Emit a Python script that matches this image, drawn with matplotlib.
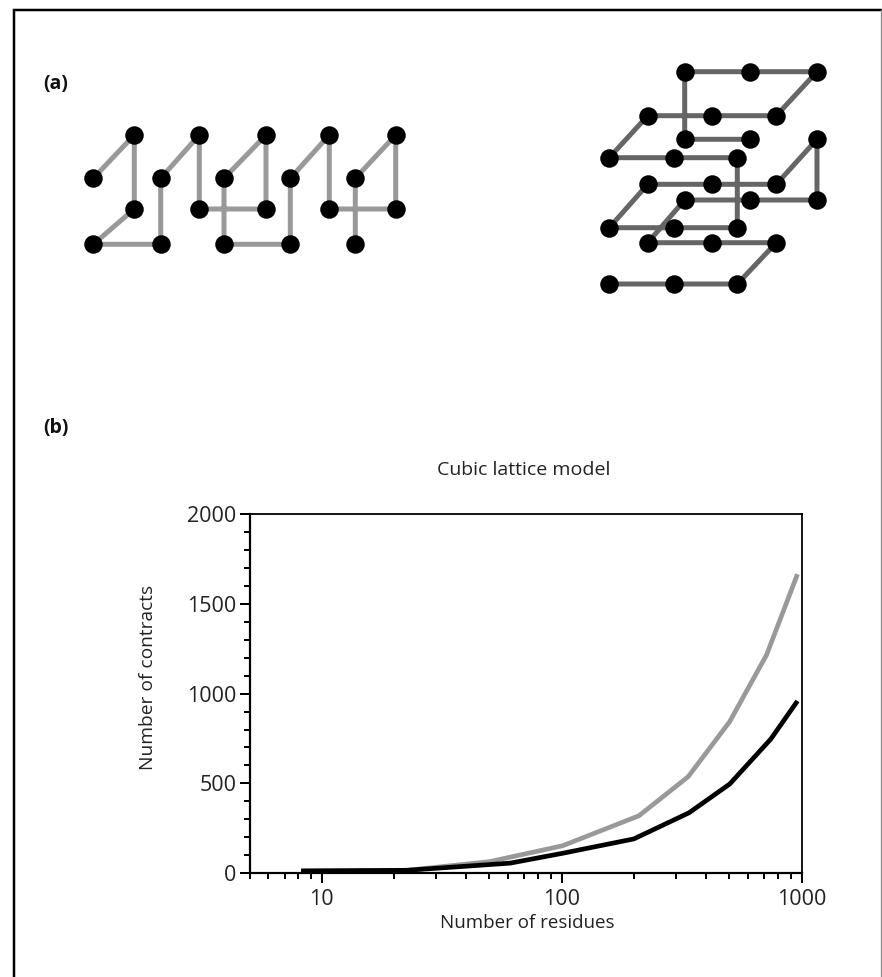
import matplotlib
matplotlib.use("Agg")
import matplotlib.pyplot as plt
from matplotlib.ticker import FixedLocator, NullFormatter

plt.rcParams['font.family'] = ['Open Sans', 'DejaVu Sans']

W, H = 882, 977

# lattice chains (in picture pixels)
chain_2d_x = [93.3, 134.3, 134.3, 93.3, 160.7, 160.7, 199.3, 199.3, 266, 266,
              224, 224, 290.3, 290.3, 329.3, 329.3, 395.7, 395.7, 355.3, 355.3]
chain_2d_y = [178.3, 135, 209, 244.3, 244.3, 178.3, 135, 209, 209, 135,
              178.3, 244.3, 244.3, 178.3, 135, 209, 209, 135, 178.3, 244.3]
chain_3d_x = [750, 684.7, 684.7, 750, 817, 776.3, 712.3, 647.7, 609.3, 674, 737.3,
              737.3, 674, 609.3, 647.7, 712.3, 776.3, 817, 817, 750, 684.7,
              647.7, 712.3, 776.3, 737.3, 674, 609.3]
chain_3d_y = [139.3, 139.3, 71.7, 71.7, 71.7, 115.7, 115.7, 115.7, 157.7, 157.7, 157.7,
              227.7, 227.7, 227.7, 184.3, 184.3, 184.3, 139.3, 200, 200, 200,
              242.7, 242.7, 242.7, 284, 284, 284]

# contact curves
residues_gray = [8.2, 22.6, 50, 101, 210, 337, 502, 715, 962]
contacts_gray = [13, 15, 63, 152, 319, 537, 844, 1216, 1666]
residues_black = [8.2, 22.6, 61, 101, 200, 340, 502, 745, 962]
contacts_black = [11, 15, 55, 110, 190, 336, 496, 747, 959]

y_major = [0, 500, 1000, 1500, 2000]
y_minor = [100, 200, 300, 400, 600, 700, 800, 900, 1100, 1200, 1300, 1400,
           1600, 1700, 1800, 1900]
x_major = [10, 100, 1000]
x_minor = [5, 6, 7, 8, 9, 20, 30, 40, 50, 60, 70, 80, 90,
           200, 300, 400, 500, 600, 700, 800, 900]

px = 72 / 100  # points per pixel at dpi 100

fig = plt.figure(figsize=(W / 100, H / 100), dpi=100)

# overlay in picture pixels for the frame, lattices and labels
bg = fig.add_axes([0, 0, 1, 1])
bg.set_xlim(0, W)
bg.set_ylim(H, 0)
bg.axis('off')

bg.plot([13.5, 13.5, 880.5], [977, 10, 10], color='black', lw=2.5 * px,
        solid_joinstyle='miter')
bg.plot([880.8, 880.8], [10, 977], color='#8c8c8c', lw=1.3 * px)

bg.plot(chain_2d_x, chain_2d_y, color='#999999', lw=5 * px, solid_capstyle='butt', zorder=2)
bg.plot(chain_2d_x, chain_2d_y, 'o', color='black', ms=18.5 * px, mew=0, zorder=3)
bg.plot(chain_3d_x, chain_3d_y, color='#666666', lw=5 * px, solid_capstyle='butt', zorder=2)
bg.plot(chain_3d_x, chain_3d_y, 'o', color='black', ms=18.5 * px, mew=0, zorder=3)

bg.text(43, 84, '(a)', fontsize=14, fontweight='bold', ha='left', va='center', color='#111111')
bg.text(43, 428, '(b)', fontsize=14, fontweight='bold', ha='left', va='center', color='#111111')
bg.text(524, 470, 'Cubic lattice model', fontsize=14, ha='center', va='center', color='#222222')
bg.text(527, 923, 'Number of residues', fontsize=13.5, ha='center', va='center', color='#222222')
bg.text(148, 677, 'Number of contracts', fontsize=13.8, ha='center', va='center',
        rotation=90, color='#222222')

# log-x chart
ax = fig.add_axes([249.5 / W, 1 - 873 / H, 552 / W, 358.7 / H])
ax.patch.set_alpha(0)
ax.set_xscale('log')
ax.set_xlim(5, 1000)
ax.set_ylim(0, 2000)

ax.plot(residues_gray, contacts_gray, color='#999999', lw=4.7 * px, solid_capstyle='butt')
ax.plot(residues_black, contacts_black, color='black', lw=4.7 * px, solid_capstyle='butt')

ax.xaxis.set_major_locator(FixedLocator(x_major))
ax.xaxis.set_minor_locator(FixedLocator(x_minor))
ax.xaxis.set_minor_formatter(NullFormatter())
ax.set_xticklabels([str(v) for v in x_major])
ax.yaxis.set_major_locator(FixedLocator(y_major))
ax.yaxis.set_minor_locator(FixedLocator(y_minor))
ax.set_yticklabels([str(v) for v in y_major])

ax.tick_params(which='major', length=10 * px, width=2 * px, labelsize=15.5,
               labelcolor='#222222')
ax.tick_params(axis='x', which='major', pad=4)
ax.tick_params(axis='y', which='major', pad=2)
ax.tick_params(which='minor', length=6 * px, width=2 * px)
for side in ax.spines:
    ax.spines[side].set_linewidth(1.8 * px)
ax.spines['left'].set_linewidth(2.2 * px)
ax.spines['bottom'].set_linewidth(2.2 * px)

fig.savefig("out.png", dpi=100)
